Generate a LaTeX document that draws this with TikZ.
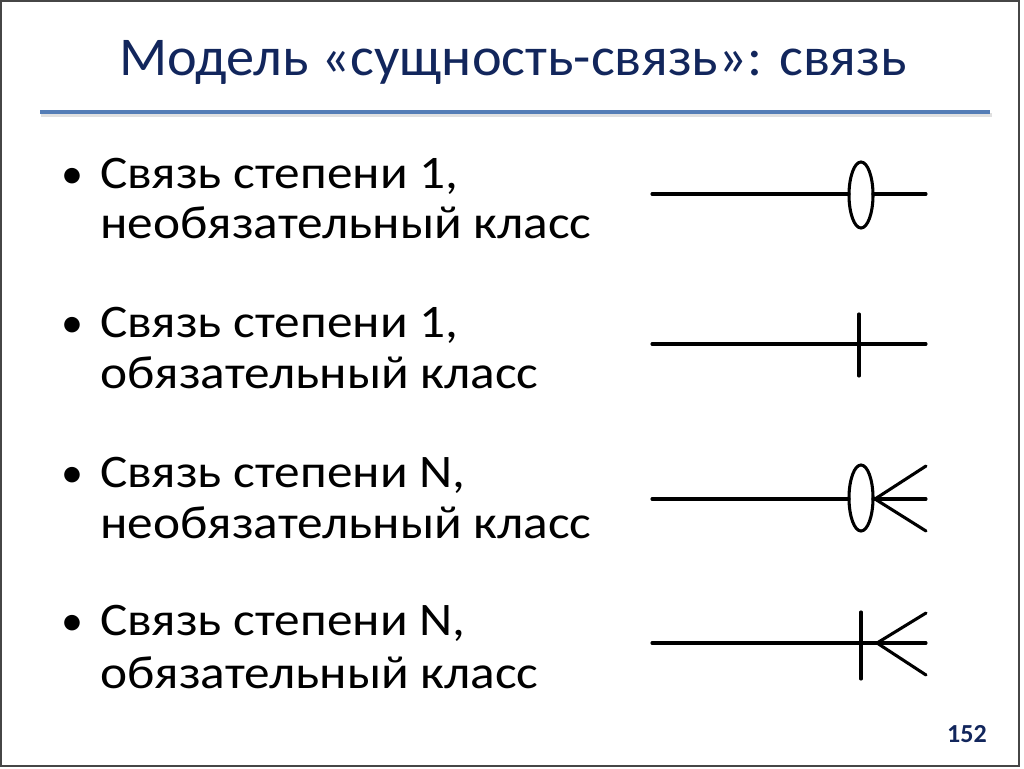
\documentclass[tikz,border=0pt]{standalone}
\usepackage{fontspec}
\setmainfont{Carlito}
\newfontfamily\bodyfont[FakeStretch=1.1]{Carlito}
\newfontfamily\titlefont[FakeStretch=1.03]{Carlito}
\definecolor{titleblue}{RGB}{18,38,92}
\definecolor{rulerblue}{RGB}{84,125,182}
\definecolor{framegray}{RGB}{70,70,70}
\tikzset{
  px/.style={x=0.75pt,y=-0.75pt},
  bodytext/.style={anchor=base west,inner sep=0pt,font=\bodyfont\fontsize{35}{38}\selectfont},
  bul/.style={anchor=base,inner sep=0pt,font=\fontsize{33}{36}\selectfont},
  sym/.style={line width=2.3pt,line cap=round,black},
}
\begin{document}
\begin{tikzpicture}[px]
\useasboundingbox (0,0) rectangle (1024,768);
\fill[white] (0,0) rectangle (1024,768);
\draw[framegray,line width=1.5pt] (1,1) rectangle (1019,766);
% title
\node[anchor=base,inner sep=0pt,text=titleblue,font=\titlefont\fontsize{41}{45}\selectfont] (title) at (513,75) {Модель «сущность-связь»: связь};
% rule with shadow
\draw[black!12,line width=3pt] (41,115) -- (992,115);
\draw[rulerblue,line width=3pt] (40,112) -- (990,112);
% bullets
\node[bul] (b1) at (72,188) {•};
\node[bodytext] (l1a) at (100,188) {Связь степени 1,};
\node[bodytext] (l1b) at (100,238) {необязательный класс};
\node[bul] (b2) at (72,337) {•};
\node[bodytext] (l2a) at (100,337) {Связь степени 1,};
\node[bodytext] (l2b) at (100,388) {обязательный класс};
\node[bul] (b3) at (72,487) {•};
\node[bodytext] (l3a) at (100,487) {Связь степени N,};
\node[bodytext] (l3b) at (100,538) {необязательный класс};
\node[bul] (b4) at (72,635) {•};
\node[bodytext] (l4a) at (100,635) {Связь степени N,};
\node[bodytext] (l4b) at (100,688) {обязательный класс};
% symbol 1: optional, degree 1
\coordinate (s1a) at (652,194); \coordinate (s1b) at (926,194);
\draw[sym] (s1a) -- (849,194);
\draw[sym] (873,194) -- (s1b);
\draw[sym] (861,195) ellipse [x radius=12, y radius=33];
% symbol 2: mandatory, degree 1
\coordinate (s2a) at (652,344); \coordinate (s2b) at (926,344);
\coordinate (t2a) at (859,314); \coordinate (t2b) at (859,376);
\draw[sym] (s2a) -- (s2b);
\draw[sym] (t2a) -- (t2b);
% symbol 3: optional, degree N
\coordinate (s3a) at (652,499); \coordinate (s3b) at (926,499);
\coordinate (c3) at (875,499);
\draw[sym] (s3a) -- (849,499);
\draw[sym] (873,499) -- (s3b);
\draw[sym] (861,498) ellipse [x radius=12, y radius=33];
\draw[sym] (926,466) -- (c3) -- (926,531);
% symbol 4: mandatory, degree N
\coordinate (s4a) at (652,643); \coordinate (s4b) at (926,643);
\coordinate (c4) at (877,643);
\draw[sym] (s4a) -- (s4b);
\draw[sym] (861,612) -- (861,679);
\draw[sym] (926,613) -- (c4) -- (926,675);
% page number
\node[anchor=base east,inner sep=0pt,text=titleblue,font=\bfseries\fontsize{19.5}{22}\selectfont] (pg) at (987,742) {152};
\end{tikzpicture}
\end{document}
